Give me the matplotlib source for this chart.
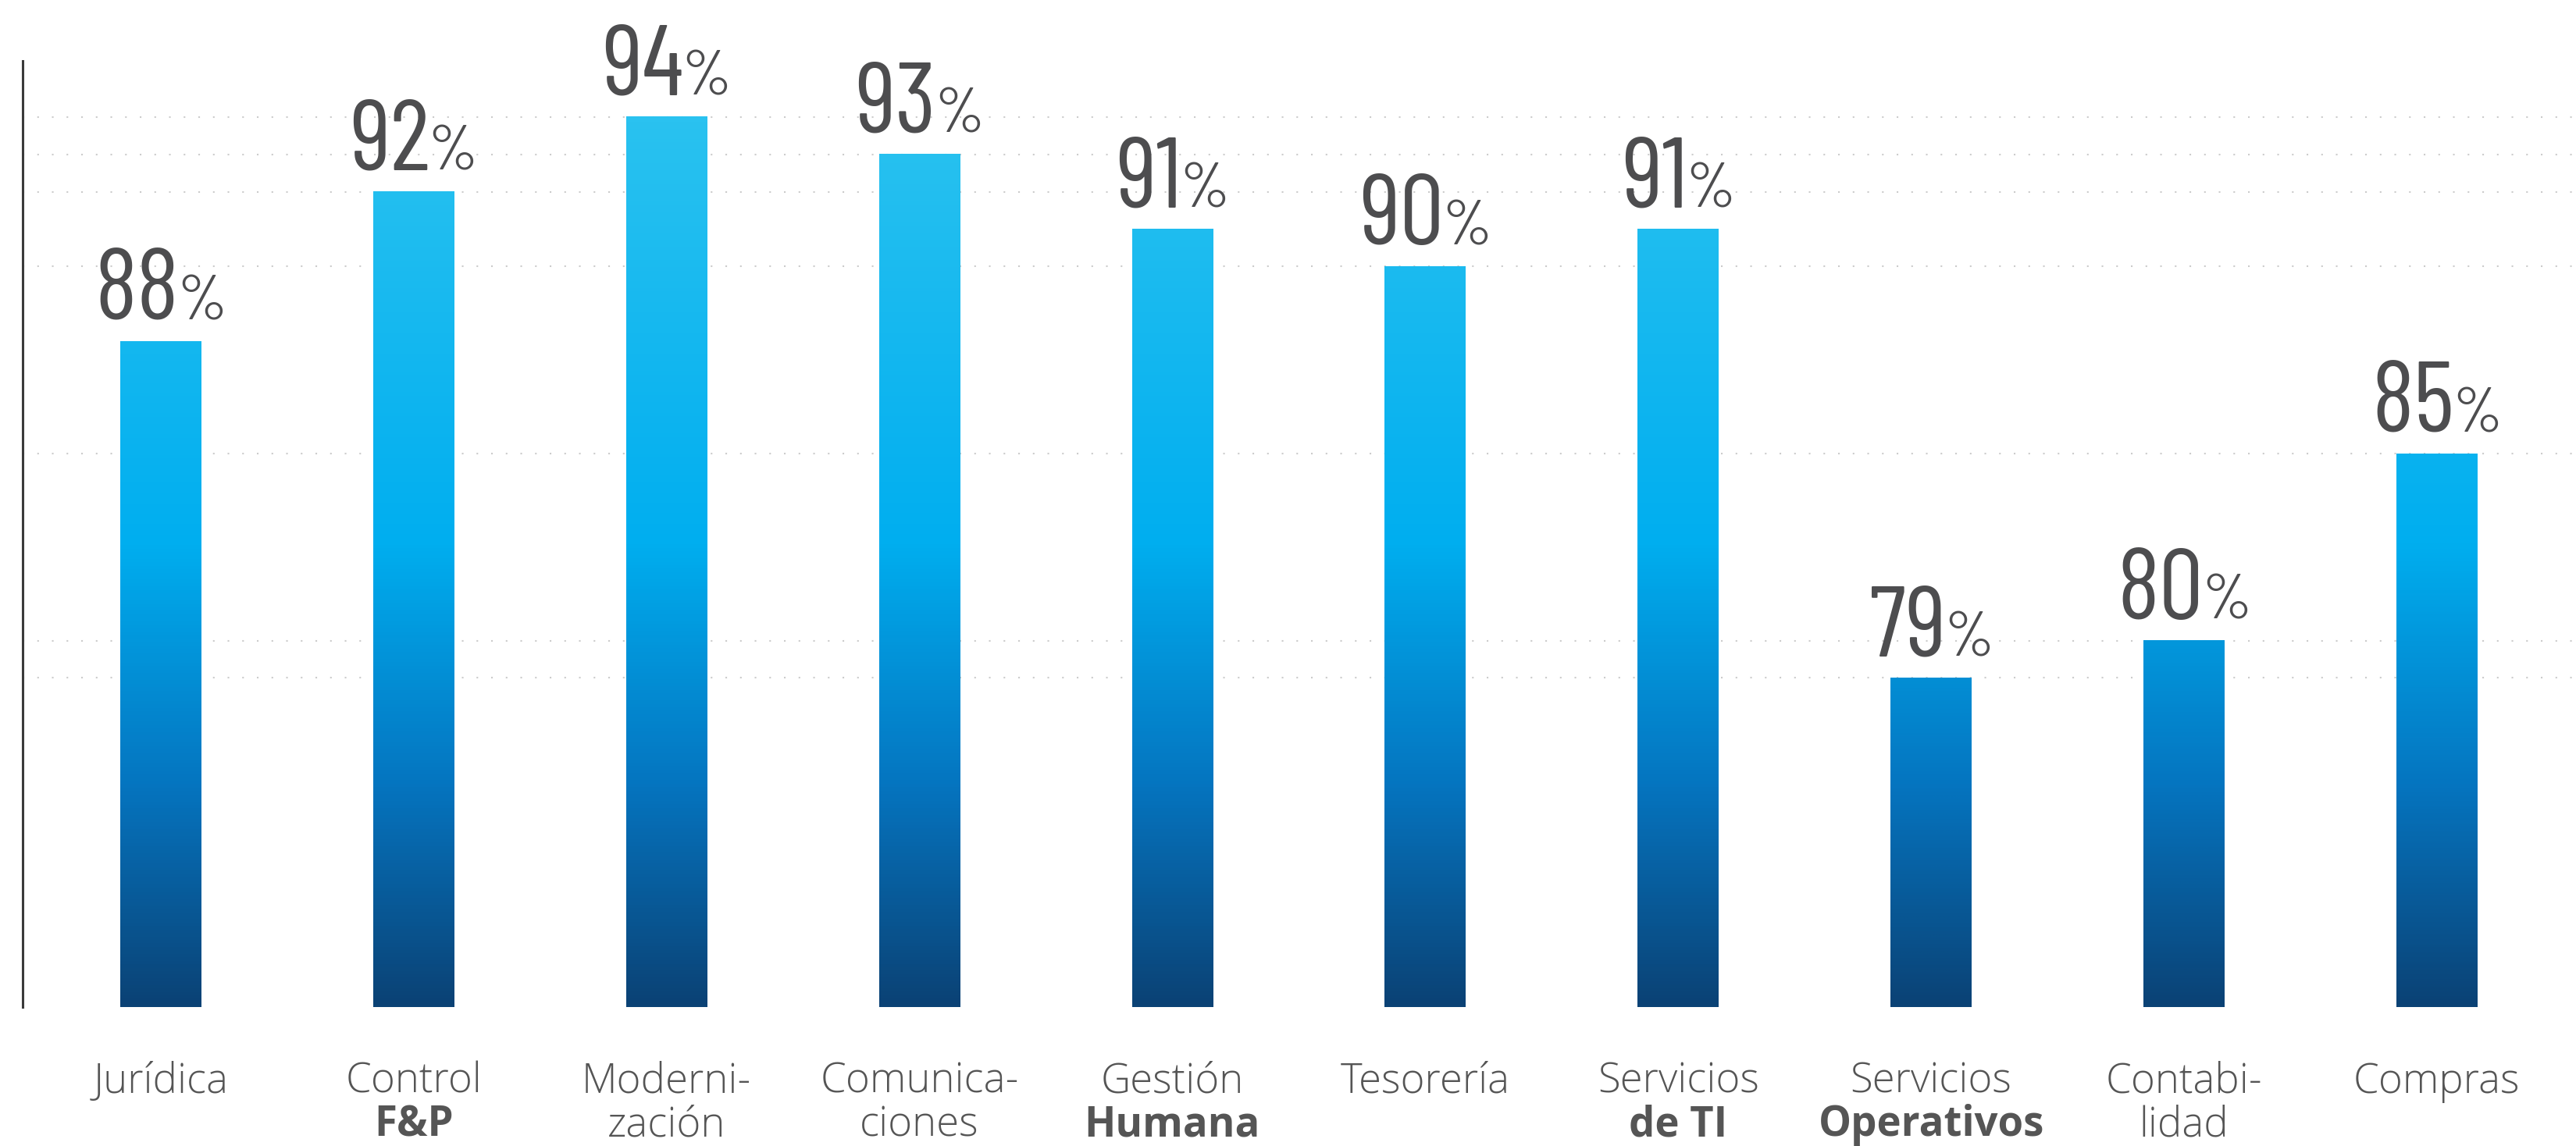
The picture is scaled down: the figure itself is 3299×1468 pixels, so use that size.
import matplotlib
matplotlib.use("Agg")
import matplotlib.pyplot as plt
import matplotlib.transforms as mtransforms
import numpy as np
from matplotlib import font_manager as fm
from matplotlib.colors import LinearSegmentedColormap, Normalize

# data
label_top = ["Jurídica", "Control", "Moderni-", "Comunica-", "Gestión",
             "Tesorería", "Servicios", "Servicios", "Contabi-", "Compras"]
label_bottom = ["", "F&P", "zación", "ciones", "Humana",
                "", "de TI", "Operativos", "lidad", ""]
bottom_bold = [False, True, False, False, True, False, True, True, False, False]
values = [88, 92, 94, 93, 91, 90, 91, 79, 80, 85]
grid_levels = [79, 80, 85, 90, 92, 93, 94]


def pick_condensed():
    names = {f.name for f in fm.fontManager.ttflist}
    for fam in ["Barlow Condensed", "Roboto Condensed", "Asap Condensed"]:
        if fam in names:
            return fam
    return "Liberation Sans"


num_font = pick_condensed()

W, H = 3299, 1468
DPI = 100
fig = plt.figure(figsize=(W / DPI, H / DPI), dpi=DPI)
ax = fig.add_axes([29 / W, 1 - 1290 / H, 1 - 29 / W, (1290 - 78) / H])

ymin, ymax = 70.2, 95.5
x = np.arange(len(values))
bar_w = 0.32

cmap = LinearSegmentedColormap.from_list(
    "bar", [(0, "#0b4275"), (0.25, "#0575c0"), (0.52, "#00aeef"), (1, "#2ac2f0")])
norm = Normalize(ymin, 94)

# dotted guide lines
for g in grid_levels:
    ax.axhline(g, color="#cccccc", lw=1.5, ls=(0, (1, 8)), zorder=0)

bars = ax.bar(x, values, width=bar_w, facecolor="none", edgecolor="none")
for rect, v in zip(bars, values):
    x0 = rect.get_x()
    grad = np.linspace(ymin, v, 256).reshape(-1, 1)
    ax.imshow(grad, extent=[x0, x0 + bar_w, ymin, v], origin="lower",
              cmap=cmap, norm=norm, aspect="auto", interpolation="bilinear",
              clip_path=rect, zorder=2)

ax.set_xlim(-0.546, 9.55)
ax.set_ylim(ymin, ymax)

# value labels: big number + small percent sign, centred over the bar
lab_col = "#4d4d4f"
pairs = []
for xi, v in zip(x, values):
    t_num = ax.annotate(f"{v}", (xi, v), xytext=(0, 28), textcoords="offset pixels",
                        ha="left", va="baseline", fontsize=92, family=num_font,
                        fontweight="normal", color=lab_col, zorder=3)
    t_pct = ax.annotate("%", (xi, v), xytext=(0, 28), textcoords="offset pixels",
                        ha="left", va="baseline", fontsize=58, family=num_font,
                        fontweight="normal", color=lab_col, zorder=3)
    pairs.append((t_num, t_pct))

fig.canvas.draw()
rend = fig.canvas.get_renderer()
gap = -2
for t_num, t_pct in pairs:
    wn = t_num.get_window_extent(rend).width
    wp = t_pct.get_window_extent(rend).width
    total = wn + gap + wp
    t_num.set_position((-total / 2, 28))
    t_pct.set_position((-total / 2 + wn + gap, 28))

trans = mtransforms.blended_transform_factory(ax.transData, fig.transFigure)
for xi, t1, t2, b in zip(x, label_top, label_bottom, bottom_bold):
    ax.text(xi, 1 - 1400 / H, t1, transform=trans, ha="center", va="baseline",
            fontsize=38, family="Open Sans", fontweight="light",
            color="#555555", clip_on=False)
    if t2:
        ax.text(xi, 1 - 1455 / H, t2, transform=trans, ha="center", va="baseline",
                fontsize=38, family="Open Sans",
                fontweight="bold" if b else "light",
                color="#555555", clip_on=False)

ax.set_xticks([])
ax.set_yticks([])
for s in ["top", "right", "bottom"]:
    ax.spines[s].set_visible(False)
ax.spines["left"].set_color("#3a3a3a")
ax.spines["left"].set_linewidth(2.2)

fig.savefig("out.png", dpi=DPI)
